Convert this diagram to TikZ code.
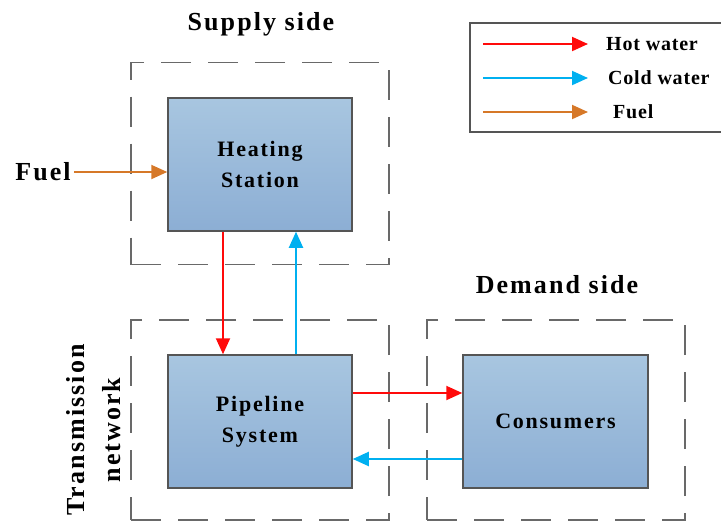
\documentclass[tikz,border=0pt]{standalone}
\usepackage{fontspec}
\setmainfont{Liberation Serif}
\newfontfamily\lblfont{Liberation Serif}[LetterSpace=8]
\newfontfamily\legfont{Liberation Serif}[LetterSpace=4]
\usetikzlibrary{arrows.meta,calc}
\definecolor{hotc}{RGB}{255,10,10}
\definecolor{coldc}{RGB}{0,176,240}
\definecolor{fuelc}{RGB}{214,120,40}
\definecolor{boxtop}{RGB}{168,198,224}
\definecolor{boxbot}{RGB}{140,174,212}
\definecolor{boxline}{RGB}{85,85,85}
\definecolor{dashc}{RGB}{105,105,105}
\begin{document}
\begin{tikzpicture}[x=1pt,y=-1pt,
  block/.style={draw=boxline, line width=1.5pt, top color=boxtop, bottom color=boxbot,
    minimum width=184pt, minimum height=133pt, inner sep=0pt, align=center,
    font=\lblfont\bfseries\fontsize{22}{31}\selectfont},
  region/.style={draw=dashc, line width=1.6pt, dash pattern=on 30pt off 17pt,
    minimum width=258pt, minimum height=202pt, inner sep=0pt},
  heading/.style={font=\lblfont\bfseries\fontsize{26}{36}\selectfont, inner sep=0pt, align=center},
  flow/.style={line width=2pt, -{Triangle[length=16pt,width=14pt]}},
  hot/.style={flow, draw=hotc, fill=hotc},
  cold/.style={flow, draw=coldc, fill=coldc},
  fuel/.style={flow, draw=fuelc, fill=fuelc},
  legtext/.style={font=\legfont\bfseries\fontsize{20}{24}\selectfont, inner sep=0pt, anchor=west}
]
\useasboundingbox (0,0) rectangle (721,522);
% regions
\node[region] (supply) at (260,163.5) {};
\node[region, minimum height=200pt] (trans) at (260,420) {};
\node[region, minimum height=200pt] (demand) at (556,420) {};
% headings
\node[heading] (supplyT) at (261,24) {Supply side};
\node[heading] (demandT) at (557,285) {Demand side};
\node[heading, rotate=90] (transT) at (94,430) {Transmission\\network};
% blocks
\node[block] (HS) at (260,164.5) {Heating\\Station};
\node[block] (PS) at (260,421.5) {Pipeline\\System};
\node[block, minimum width=185pt] (CO) at (555.5,421.5) {Consumers};
% fuel input
\node[heading] (fuelT) at (43,172) {Fuel};
\draw[fuel] ([xshift=3pt]fuelT.east) -- (fuelT.east -| HS.west);
% flows
\draw[hot] ([xshift=-37pt]HS.south) -- ([xshift=-37pt]PS.north);
\draw[cold] ([xshift=36pt]PS.north) -- ([xshift=36pt]HS.south);
\draw[hot] ([yshift=28.5pt]PS.east) -- ([yshift=28.5pt]CO.west);
\draw[cold] ([yshift=-37.5pt]CO.west) -- ([yshift=-37.5pt]PS.east);
% legend
\node[draw=boxline, line width=1.5pt, minimum width=253pt, minimum height=109pt, inner sep=0pt] (legend) at (596.5,77.5) {};
\coordinate (l1s) at (483,44); \coordinate (l1e) at (588,44);
\coordinate (l2s) at (483,78); \coordinate (l2e) at (588,78);
\coordinate (l3s) at (483,112); \coordinate (l3e) at (588,112);
\draw[hot] (l1s) -- (l1e);
\draw[cold] (l2s) -- (l2e);
\draw[fuel] (l3s) -- (l3e);
\node[legtext] (t1) at (606,44) {Hot water};
\node[legtext] (t2) at (608,78) {Cold water};
\node[legtext] (t3) at (613,112) {Fuel};
\end{tikzpicture}
\end{document}
